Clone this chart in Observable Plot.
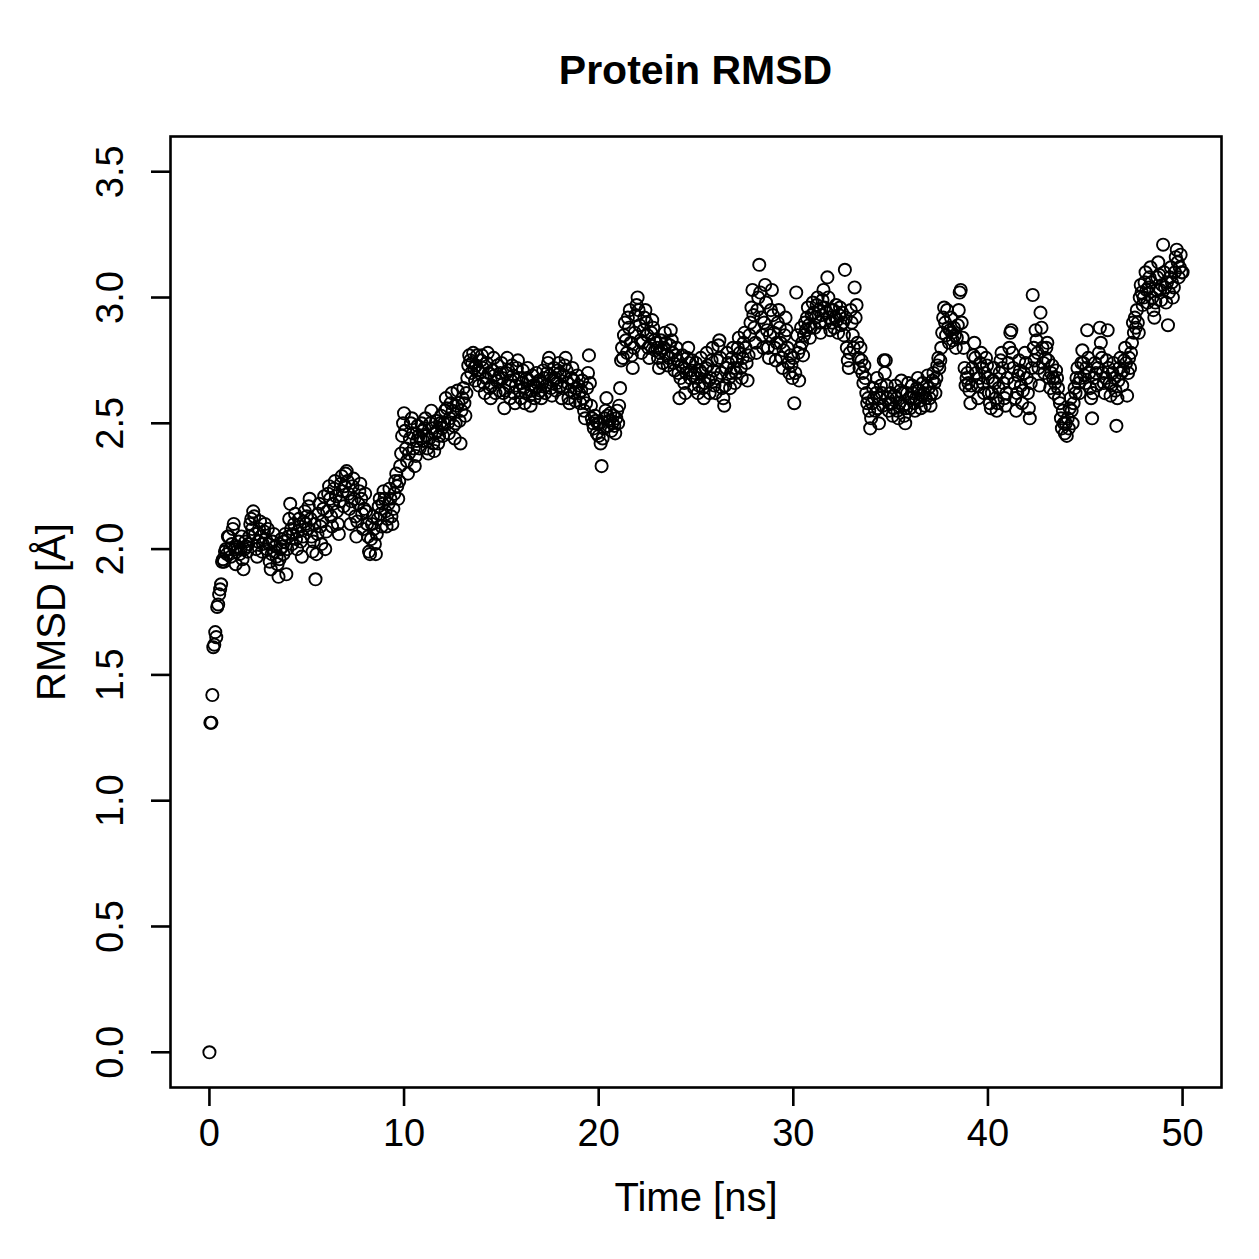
<!DOCTYPE html>
<html>
<head>
<meta charset="utf-8">
<script src="https://cdn.jsdelivr.net/npm/d3@7"></script>
<script src="https://cdn.jsdelivr.net/npm/@observablehq/plot@0.6"></script>
<style>
  html, body { margin: 0; padding: 0; background: #fff; }
  #wrap { width: 1259px; height: 1259px; position: relative; font-family: "Liberation Sans", Arial, Helvetica, sans-serif; }
  #title { position: absolute; left: 170px; width: 1051px; top: 50px; text-align: center; font-size: 41px; line-height: 41px; font-weight: bold; color: #000; }
  #chart { position: absolute; left: 0; top: 100px; }
</style>
</head>
<body>
<div id="wrap">
  <div id="title">Protein RMSD</div>
  <div id="chart"></div>
</div>
<script>
const title = "Protein RMSD";
const xLabel = "Time [ns]";
const yLabel = "RMSD [Å]";
const xTicks = [0, 10, 20, 30, 40, 50];
const yTicks = [0, 0.5, 1, 1.5, 2, 2.5, 3, 3.5];
const timeStep = 0.05; // ns between frames

// RMSD values (Å), one per frame
const rmsd0to10 = [
  0, 1.31, 1.31, 1.42, 1.61, 1.62, 1.67, 1.65, 1.77, 1.78, 1.82, 1.84, 1.86, 1.95, 1.96, 1.95, 1.99, 2.0, 1.98, 2.05,
  2.05, 2.0, 1.97, 2.02, 2.08, 2.1, 2.0, 1.94, 1.99, 2.01, 2.03, 1.98, 2.0, 2.05, 1.96, 1.92, 2.0, 2.03, 2.01, 1.99,
  2.02, 2.05, 2.1, 2.12, 2.08, 2.15, 2.13, 2.06, 2.0, 1.97, 2.03, 2.08, 2.11, 2.05, 1.99, 2.02, 2.07, 2.1, 2.04, 2.0,
  2.08, 2.02, 1.95, 1.92, 1.98, 2.03, 2.06, 1.99, 2.01, 1.97, 1.94, 1.89, 1.96, 2.0, 2.04, 2.01, 1.98, 2.03, 2.06, 1.9,
  2.0, 2.05, 2.12, 2.18, 2.08, 2.02, 2.06, 2.1, 2.14, 2.04, 2.0, 2.07, 2.12, 2.09, 2.03, 1.97, 2.05, 2.11, 2.15, 2.1,
  2.13, 2.08, 2.17, 2.2, 2.12, 2.05, 1.99, 2.03, 2.1, 1.88, 1.98, 2.06, 2.14, 2.18, 2.09, 2.02, 2.11, 2.16, 2.21, 2.0,
  2.07, 2.15, 2.22, 2.25, 2.2, 2.13, 2.09, 2.18, 2.24, 2.27, 2.21, 2.15, 2.1, 2.06, 2.19, 2.26, 2.29, 2.23, 2.17, 2.25,
  2.3, 2.31, 2.27, 2.22, 2.16, 2.1, 2.19, 2.25, 2.28, 2.2, 2.13, 2.05, 2.11, 2.18, 2.23, 2.26, 2.2, 2.14, 2.08, 2.16,
  2.22, 2.15, 2.1, 2.05, 1.99, 1.98, 2.04, 2.1, 2.13, 2.08, 2.02, 1.98, 2.06, 2.12, 2.17, 2.2, 2.14, 2.09, 2.18, 2.23,
  2.2, 2.15, 2.09, 2.12, 2.18, 2.24, 2.2, 2.13, 2.1, 2.16, 2.22, 2.27, 2.3, 2.25, 2.2, 2.27, 2.33, 2.38, 2.45, 2.5
];
const rmsd10to20 = [
  2.54, 2.47, 2.4, 2.35, 2.3, 2.38, 2.44, 2.5, 2.52, 2.46, 2.4, 2.33, 2.37, 2.43, 2.49, 2.45, 2.4, 2.44, 2.5, 2.47,
  2.43, 2.48, 2.52, 2.45, 2.4, 2.38, 2.44, 2.5, 2.55, 2.48, 2.42, 2.39, 2.46, 2.51, 2.47, 2.42, 2.45, 2.5, 2.53, 2.48,
  2.45, 2.5, 2.55, 2.6, 2.56, 2.5, 2.46, 2.52, 2.58, 2.62, 2.55, 2.49, 2.44, 2.5, 2.57, 2.63, 2.58, 2.51, 2.42, 2.55,
  2.6, 2.64, 2.58, 2.53, 2.62, 2.68, 2.73, 2.77, 2.75, 2.7, 2.74, 2.78, 2.72, 2.67, 2.73, 2.77, 2.71, 2.65, 2.7, 2.75,
  2.77, 2.72, 2.66, 2.62, 2.68, 2.74, 2.78, 2.7, 2.64, 2.6, 2.65, 2.71, 2.76, 2.69, 2.62, 2.67, 2.73, 2.68, 2.63, 2.7,
  2.74, 2.68, 2.62, 2.56, 2.63, 2.7, 2.76, 2.71, 2.65, 2.6, 2.67, 2.73, 2.69, 2.62, 2.58, 2.65, 2.72, 2.75, 2.68, 2.63,
  2.6, 2.66, 2.71, 2.64, 2.58, 2.62, 2.68, 2.72, 2.67, 2.61, 2.57, 2.63, 2.69, 2.65, 2.6, 2.64, 2.7, 2.66, 2.62, 2.67,
  2.63, 2.6, 2.66, 2.71, 2.68, 2.62, 2.65, 2.7, 2.74, 2.76, 2.69, 2.64, 2.61, 2.67, 2.72, 2.68, 2.63, 2.66, 2.71, 2.74,
  2.7, 2.65, 2.6, 2.64, 2.69, 2.73, 2.76, 2.71, 2.66, 2.6, 2.58, 2.63, 2.68, 2.72, 2.67, 2.62, 2.59, 2.64, 2.69, 2.65,
  2.62, 2.58, 2.63, 2.67, 2.6, 2.55, 2.52, 2.58, 2.64, 2.7, 2.77, 2.66, 2.57, 2.52, 2.5, 2.48, 2.53, 2.51, 2.46, 2.5
];
const rmsd20to30 = [
  2.45, 2.5, 2.42, 2.33, 2.44, 2.48, 2.52, 2.55, 2.6, 2.53, 2.49, 2.51, 2.54, 2.47, 2.5, 2.53, 2.49, 2.46, 2.52, 2.55,
  2.5, 2.57, 2.64, 2.75, 2.8, 2.76, 2.85, 2.9, 2.83, 2.78, 2.92, 2.88, 2.95, 2.82, 2.77, 2.72, 2.8, 2.86, 2.93, 2.97,
  3.0, 2.95, 2.89, 2.83, 2.78, 2.82, 2.87, 2.92, 2.95, 2.9, 2.85, 2.8, 2.76, 2.81, 2.86, 2.91, 2.88, 2.83, 2.79, 2.82,
  2.8, 2.76, 2.72, 2.78, 2.83, 2.79, 2.74, 2.8, 2.86, 2.82, 2.77, 2.73, 2.76, 2.81, 2.87, 2.83, 2.78, 2.74, 2.71, 2.77,
  2.8, 2.75, 2.7, 2.6, 2.68, 2.73, 2.77, 2.72, 2.66, 2.62, 2.7, 2.76, 2.8, 2.74, 2.68, 2.71, 2.75, 2.69, 2.64, 2.7,
  2.74, 2.68, 2.62, 2.65, 2.71, 2.76, 2.7, 2.64, 2.6, 2.66, 2.72, 2.78, 2.73, 2.67, 2.62, 2.68, 2.75, 2.8, 2.71, 2.65,
  2.62, 2.68, 2.75, 2.81, 2.83, 2.76, 2.7, 2.64, 2.6, 2.57, 2.65, 2.72, 2.78, 2.74, 2.68, 2.64, 2.7, 2.76, 2.8, 2.72,
  2.66, 2.7, 2.75, 2.8, 2.84, 2.78, 2.72, 2.68, 2.76, 2.82, 2.86, 2.8, 2.74, 2.67, 2.77, 2.85, 2.9, 2.96, 3.03, 2.93,
  2.88, 2.82, 2.78, 2.95, 3.0, 3.13, 3.02, 2.92, 2.85, 2.8, 2.9, 3.05, 2.98, 2.87, 2.8, 2.76, 2.85, 2.95, 3.03, 2.93,
  2.86, 2.8, 2.75, 2.82, 2.9, 2.95, 2.88, 2.82, 2.76, 2.72, 2.79, 2.85, 2.92, 2.87, 2.8, 2.74, 2.7, 2.77, 2.73, 2.68
];
const rmsd30to40 = [
  2.76, 2.58, 2.7, 3.02, 2.85, 2.78, 2.67, 2.8, 2.88, 2.82, 2.77, 2.85, 2.9, 2.87, 2.92, 2.96, 2.89, 2.84, 2.88, 2.93,
  2.98, 2.94, 2.88, 2.92, 2.97, 3.0, 2.95, 2.9, 2.86, 2.93, 2.99, 3.03, 2.96, 2.9, 2.94, 3.08, 3.0, 2.92, 2.87, 2.95,
  2.9, 2.95, 2.88, 2.92, 2.97, 2.91, 2.86, 2.93, 2.96, 2.89, 2.94, 2.9, 2.85, 3.11, 2.92, 2.8, 2.75, 2.72, 2.78, 2.95,
  2.9, 2.85, 2.8, 3.04, 2.92, 2.97, 2.82, 2.76, 2.72, 2.8, 2.75, 2.7, 2.66, 2.73, 2.68, 2.62, 2.58, 2.6, 2.55, 2.48,
  2.52, 2.58, 2.64, 2.6, 2.55, 2.62, 2.68, 2.56, 2.5, 2.6, 2.65, 2.62, 2.57, 2.75, 2.7, 2.75, 2.65, 2.6, 2.55, 2.58,
  2.62, 2.58, 2.53, 2.56, 2.61, 2.65, 2.6, 2.55, 2.52, 2.58, 2.63, 2.67, 2.62, 2.57, 2.53, 2.5, 2.56, 2.62, 2.66, 2.6,
  2.56, 2.6, 2.65, 2.62, 2.58, 2.55, 2.6, 2.64, 2.68, 2.63, 2.59, 2.56, 2.61, 2.66, 2.62, 2.57, 2.6, 2.65, 2.69, 2.64,
  2.6, 2.57, 2.62, 2.67, 2.7, 2.66, 2.62, 2.68, 2.73, 2.76, 2.72, 2.75, 2.8, 2.86, 2.92, 2.96, 2.9, 2.85, 2.95, 2.88,
  2.82, 2.87, 2.92, 2.86, 2.83, 2.88, 2.85, 2.8, 2.84, 2.89, 2.95, 3.02, 3.03, 2.9, 2.84, 2.8, 2.72, 2.65, 2.68, 2.7,
  2.66, 2.63, 2.58, 2.65, 2.72, 2.77, 2.82, 2.76, 2.7, 2.65, 2.6, 2.68, 2.74, 2.78, 2.72, 2.66, 2.62, 2.7, 2.76, 2.73
];
const rmsd40to50 = [
  2.68, 2.62, 2.58, 2.56, 2.62, 2.67, 2.72, 2.66, 2.6, 2.55, 2.58, 2.64, 2.7, 2.75, 2.78, 2.72, 2.66, 2.6, 2.57, 2.62,
  2.68, 2.74, 2.8, 2.86, 2.87, 2.78, 2.72, 2.66, 2.6, 2.55, 2.62, 2.69, 2.75, 2.71, 2.65, 2.58, 2.63, 2.7, 2.78, 2.74,
  2.68, 2.62, 2.56, 2.52, 2.66, 2.72, 3.01, 2.8, 2.75, 2.87, 2.83, 2.78, 2.72, 2.65, 2.94, 2.88, 2.8, 2.74, 2.7, 2.76,
  2.8, 2.82, 2.75, 2.68, 2.64, 2.7, 2.73, 2.68, 2.62, 2.66, 2.71, 2.68, 2.64, 2.6, 2.58, 2.52, 2.48, 2.55, 2.5, 2.46,
  2.5, 2.45, 2.52, 2.48, 2.56, 2.6, 2.55, 2.5, 2.58, 2.64, 2.62, 2.68, 2.72, 2.66, 2.62, 2.68, 2.74, 2.79, 2.74, 2.69,
  2.66, 2.72, 2.87, 2.76, 2.7, 2.64, 2.6, 2.52, 2.62, 2.68, 2.74, 2.7, 2.65, 2.72, 2.78, 2.88, 2.82, 2.76, 2.7, 2.66,
  2.62, 2.68, 2.75, 2.87, 2.72, 2.66, 2.61, 2.65, 2.7, 2.74, 2.68, 2.63, 2.49, 2.6, 2.67, 2.72, 2.76, 2.7, 2.65, 2.71,
  2.75, 2.8, 2.74, 2.61, 2.7, 2.76, 2.72, 2.78, 2.82, 2.9, 2.86, 2.92, 2.88, 2.95, 2.9, 2.86, 3.0, 3.05, 3.02, 2.97,
  3.0, 3.06, 3.1, 3.03, 2.98, 3.04, 3.08, 3.12, 3.06, 3.0, 2.95, 2.92, 2.98, 3.03, 3.08, 3.14, 3.09, 3.03, 2.99, 3.05,
  3.21, 3.1, 3.04, 2.98, 3.06, 2.89, 3.02, 3.08, 3.12, 3.06, 3.0, 3.04, 3.1, 3.16, 3.19, 3.14, 3.08, 3.12, 3.17, 3.1,
  3.1
];

const rmsd = [...rmsd0to10, ...rmsd10to20, ...rmsd20to30, ...rmsd30to40, ...rmsd40to50];
const data = rmsd.map((v, i) => ({t: +(i * timeStep).toFixed(2), v}));

document.getElementById("title").textContent = title;

const font = "Liberation Sans, Arial, Helvetica, sans-serif";
const chart = Plot.plot({
  width: 1259,
  height: 1159,
  marginTop: 36,
  marginBottom: 172,
  marginLeft: 170,
  marginRight: 38,
  style: {fontFamily: font, background: "white", color: "black", overflow: "visible"},
  x: {domain: [-2, 52], axis: null},
  y: {domain: [-0.14, 3.64], axis: null},
  marks: [
    Plot.dot(data, {x: "t", y: "v", r: 6.1, stroke: "black", strokeWidth: 1.9, fill: "none"}),
    Plot.frame({stroke: "black", strokeWidth: 2.6}),
    Plot.axisX({ticks: xTicks, tickSize: 19, tickFormat: () => "", strokeWidth: 2.6, label: null}),
    Plot.axisY({ticks: yTicks, tickSize: 19, tickFormat: () => "", strokeWidth: 2.6, label: null}),
    Plot.text(xTicks, {x: d => d, frameAnchor: "bottom", dy: 46, text: d => String(d), fontSize: 38, lineAnchor: "middle", fill: "black"}),
    Plot.text(yTicks, {y: d => d, frameAnchor: "left", dx: -60, rotate: -90, text: d => d.toFixed(1), fontSize: 38, textAnchor: "middle", lineAnchor: "middle", fill: "black"}),
    Plot.text([xLabel], {frameAnchor: "bottom", dy: 111, text: d => d, fontSize: 40, lineAnchor: "middle", fill: "black"}),
    Plot.text([yLabel], {frameAnchor: "left", dx: -118, rotate: -90, text: d => d, fontSize: 40, textAnchor: "middle", lineAnchor: "middle", fill: "black"})
  ]
});
document.getElementById("chart").appendChild(chart);
</script>
</body>
</html>
